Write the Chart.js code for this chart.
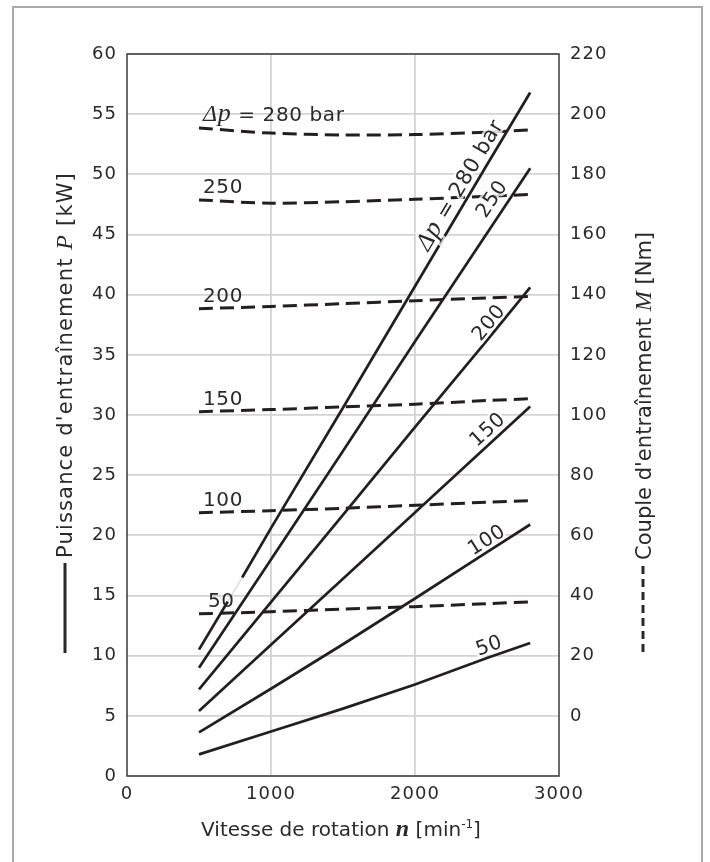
<!DOCTYPE html>
<html>
<head>
<meta charset="utf-8">
<script src="https://cdn.jsdelivr.net/npm/chart.js@4.4.1/dist/chart.umd.min.js"></script>
<style>
  html, body { margin: 0; padding: 0; background: #fff; }
  canvas { display: block; }
</style>
</head>
<body>
<canvas id="chart" width="710" height="862"></canvas>
<script>
// speed n [min-1]
const speeds = [500, 1000, 1500, 2000, 2500, 2800];
const speeds280 = [500, 700, 800, 1000, 1500, 2000, 2500, 2800];

// drive power P [kW], solid lines
const power280 = [10.5, 14.5, 16.5, 20.6, 30.6, 40.7, 50.8, 56.8];
const power250 = [9.0, 18.0, 27.0, 36.1, 45.1, 50.5];
const power200 = [7.2, 14.45, 21.7, 29.0, 36.2, 40.6];
const power150 = [5.4, 10.9, 16.4, 21.9, 27.4, 30.7];
const power100 = [3.63, 7.25, 10.95, 14.75, 18.6, 20.9];
const power50 = [1.8, 3.7, 5.6, 7.6, 9.8, 11.05];

// drive torque M [Nm], dashed lines
const torque280 = [195.4, 193.7, 193.1, 193.2, 194.0, 194.8];
const torque250 = [171.5, 170.4, 170.9, 171.7, 172.7, 173.3];
const torque200 = [135.3, 136.1, 137.0, 138.0, 138.9, 139.4];
const torque150 = [101.1, 101.8, 102.7, 103.6, 104.8, 105.4];
const torque100 = [67.5, 68.2, 69.0, 70.0, 71.0, 71.5];
const torque50 = [33.9, 34.6, 35.5, 36.3, 37.3, 37.9];

const pressures = [280, 250, 200, 150, 100, 50];

const INK = '#231f20';
const TXT = '#2a2a2a';
const SANS = '"DejaVu Sans", "Noto Sans", sans-serif';
const SERIF = '"Liberation Serif", "DejaVu Serif", serif';

const toPts = (xs, ys) => xs.map((n, i) => ({ x: n, y: ys[i] }));

const powerSets = [
    { xs: speeds280, ys: power280 },
    { xs: speeds, ys: power250 },
    { xs: speeds, ys: power200 },
    { xs: speeds, ys: power150 },
    { xs: speeds, ys: power100 },
    { xs: speeds, ys: power50 }
];
const torqueSets = [torque280, torque250, torque200, torque150, torque100, torque50];

const datasets = [];
powerSets.forEach((s, i) => {
    datasets.push({
        label: 'P ' + pressures[i],
        data: toPts(s.xs, s.ys),
        yAxisID: 'y',
        borderColor: INK,
        borderWidth: 2.7,
        pointRadius: 0,
        tension: 0,
        // small break in the 280 bar line where the "50" label sits
        segment: i === 0 ? {
            borderColor: c => c.p0.parsed.x === 700 ? '#dedede' : undefined,
            borderWidth: c => c.p0.parsed.x === 700 ? 1.5 : undefined
        } : undefined
    });
});
torqueSets.forEach((t, i) => {
    datasets.push({
        label: 'M ' + pressures[i],
        data: toPts(speeds, t),
        yAxisID: 'y2',
        borderColor: INK,
        borderWidth: 3,
        borderDash: [14, 7],
        pointRadius: 0,
        tension: 0.3
    });
});

function richWidth(ctx, parts) {
    let w = 0;
    parts.forEach(p => { ctx.font = p.f; w += ctx.measureText(p.t).width; });
    return w;
}

function drawRich(ctx, parts, x, y, align, halo) {
    const w = richWidth(ctx, parts);
    let cx = align === 'center' ? x - w / 2 : x;
    ctx.textAlign = 'left';
    parts.forEach(p => {
        ctx.font = p.f;
        if (halo) {
            ctx.strokeStyle = 'rgba(255,255,255,0.75)';
            ctx.lineWidth = 5;
            ctx.strokeText(p.t, cx, y + (p.dy || 0));
        }
        ctx.fillText(p.t, cx, y + (p.dy || 0));
        cx += ctx.measureText(p.t).width;
    });
}

function pointOnLine(xs, ys, n, xs_, ys_) {
    let i = 0;
    while (i < xs.length - 2 && n > xs[i + 1]) i++;
    const t = (n - xs[i]) / (xs[i + 1] - xs[i]);
    const v = ys[i] + t * (ys[i + 1] - ys[i]);
    const ang = Math.atan2(
        ys_.getPixelForValue(ys[i + 1]) - ys_.getPixelForValue(ys[i]),
        xs_.getPixelForValue(xs[i + 1]) - xs_.getPixelForValue(xs[i])
    );
    return { x: xs_.getPixelForValue(n), y: ys_.getPixelForValue(v), ang: ang };
}

const deltaP = (size) => [
    { t: 'Δ', f: 'italic ' + size + 'px ' + SERIF },
    { t: 'p', f: 'italic ' + (size + 2) + 'px ' + SERIF },
    { t: ' = 280 bar', f: (size - 4) + 'px ' + SANS }
];

// fit a title to a measured length by changing the letter spacing a little
function fitSpacing(ctx, parts, target) {
    ctx.letterSpacing = '0px';
    const n = parts.reduce((s, p) => s + p.t.length, 0);
    const w = richWidth(ctx, parts);
    return ((target - w) / n).toFixed(2) + 'px';
}

const overlay = {
    id: 'overlay',
    beforeDraw(chart) {
        chart.ctx.letterSpacing = '1px';
    },
    afterDatasetsDraw(chart) {
        const ctx = chart.ctx;
        const xs = chart.scales.x, ys = chart.scales.y, y2 = chart.scales.y2;
        ctx.save();
        ctx.fillStyle = TXT;
        ctx.textBaseline = 'alphabetic';
        ctx.letterSpacing = '0.6px';

        // labels of the torque (dashed) lines, at their left ends
        torqueSets.forEach((t, i) => {
            const x = xs.getPixelForValue(speeds[0]) + (i === 5 ? 9 : 4);
            const y = y2.getPixelForValue(t[0]) - 7;
            const parts = i === 0 ? deltaP(24) : [{ t: String(pressures[i]), f: '20px ' + SANS }];
            drawRich(ctx, parts, x, y, 'left', false);
        });

        // labels along the power (solid) lines
        const along = [
            { n: 2390, off: 6 },
            { n: 2620, off: 9 },
            { n: 2565, off: 4 },
            { n: 2560, off: 6 },
            { n: 2537, off: 4.5 },
            { n: 2540, off: 5 }
        ];
        powerSets.forEach((s, i) => {
            const p = pointOnLine(s.xs, s.ys, along[i].n, xs, ys);
            ctx.save();
            ctx.translate(p.x, p.y);
            ctx.rotate(p.ang);
            const parts = i === 0 ? deltaP(25) : [{ t: String(pressures[i]), f: '20px ' + SANS }];
            drawRich(ctx, parts, 0, -along[i].off, 'center', true);
            ctx.restore();
            ctx.fillStyle = TXT;
        });
        ctx.restore();
    },
    afterDraw(chart) {
        const ctx = chart.ctx;
        const a = chart.chartArea;
        ctx.save();
        ctx.letterSpacing = '0px';

        // plot frame
        ctx.strokeStyle = '#3a3a3a';
        ctx.lineWidth = 1.5;
        ctx.strokeRect(a.left, a.top, a.right - a.left, a.bottom - a.top);

        // outer frame of the figure
        ctx.strokeStyle = '#a9a9a9';
        ctx.lineWidth = 2;
        ctx.strokeRect(13, 7, 689, 880);

        ctx.fillStyle = TXT;
        ctx.textBaseline = 'alphabetic';

        // left title with solid legend line
        const leftParts = [
            { t: "Puissance d'entraînement ", f: '21px ' + SANS },
            { t: 'P', f: 'italic 24px ' + SERIF },
            { t: ' [kW]', f: '21px ' + SANS }
        ];
        ctx.letterSpacing = fitSpacing(ctx, leftParts, 386);
        ctx.save();
        ctx.translate(72, 558);
        ctx.rotate(-Math.PI / 2);
        drawRich(ctx, leftParts, 0, 0, 'left', false);
        ctx.restore();

        ctx.strokeStyle = '#2a2a2a';
        ctx.lineWidth = 3;
        ctx.beginPath();
        ctx.moveTo(65, 563);
        ctx.lineTo(65, 653);
        ctx.stroke();

        // right title with dashed legend line
        const rightParts = [
            { t: "Couple d'entraînement ", f: '21px ' + SANS },
            { t: 'M', f: 'italic 24px ' + SERIF },
            { t: ' [Nm]', f: '21px ' + SANS }
        ];
        ctx.letterSpacing = fitSpacing(ctx, rightParts, 328);
        ctx.save();
        ctx.translate(651, 560);
        ctx.rotate(-Math.PI / 2);
        drawRich(ctx, rightParts, 0, 0, 'left', false);
        ctx.restore();

        ctx.setLineDash([8, 5]);
        ctx.beginPath();
        ctx.moveTo(643, 566);
        ctx.lineTo(643, 656);
        ctx.stroke();
        ctx.setLineDash([]);

        // x title
        const xParts = [
            { t: 'Vitesse de rotation ', f: '20px ' + SANS },
            { t: 'n', f: 'italic bold 24px ' + SERIF },
            { t: ' [min', f: '20px ' + SANS },
            { t: '-1', f: '12px ' + SANS, dy: -8 },
            { t: ']', f: '20px ' + SANS }
        ];
        ctx.letterSpacing = fitSpacing(ctx, xParts, 280);
        drawRich(ctx, xParts, (a.left + a.right) / 2 - 2, 836, 'center', false);

        ctx.restore();
    }
};

const tickFont = { family: SANS, size: 18 };

new Chart(document.getElementById('chart').getContext('2d'), {
    type: 'line',
    data: { datasets: datasets },
    options: {
        responsive: false,
        animation: false,
        layout: { padding: { top: 54, left: 0, right: 0, bottom: 0 } },
        plugins: {
            legend: { display: false },
            tooltip: { enabled: false }
        },
        scales: {
            x: {
                type: 'linear',
                min: 0,
                max: 3000,
                ticks: {
                    stepSize: 1000,
                    color: TXT,
                    font: tickFont,
                    padding: 8,
                    maxRotation: 0,
                    callback: v => String(v)
                },
                grid: {
                    color: c => (c.tick && (c.tick.value === 1000 || c.tick.value === 2000)) ? '#d3d3d3' : 'rgba(0,0,0,0)',
                    lineWidth: 1.8,
                    drawTicks: false
                },
                border: { display: false },
                afterFit: s => { s.height = 86; }
            },
            y: {
                position: 'left',
                min: 0,
                max: 60,
                ticks: {
                    stepSize: 5,
                    color: TXT,
                    font: tickFont,
                    padding: 10
                },
                grid: {
                    color: '#d3d3d3',
                    lineWidth: 1.8,
                    drawTicks: false
                },
                border: { display: false },
                afterFit: s => { s.width = 127; }
            },
            y2: {
                position: 'right',
                min: -20,
                max: 220,
                ticks: {
                    stepSize: 20,
                    color: TXT,
                    font: tickFont,
                    padding: 11,
                    callback: v => v < 0 ? '' : String(v)
                },
                grid: { display: false, drawTicks: false },
                border: { display: false },
                afterFit: s => { s.width = 151; }
            }
        }
    },
    plugins: [overlay]
});
</script>
</body>
</html>
